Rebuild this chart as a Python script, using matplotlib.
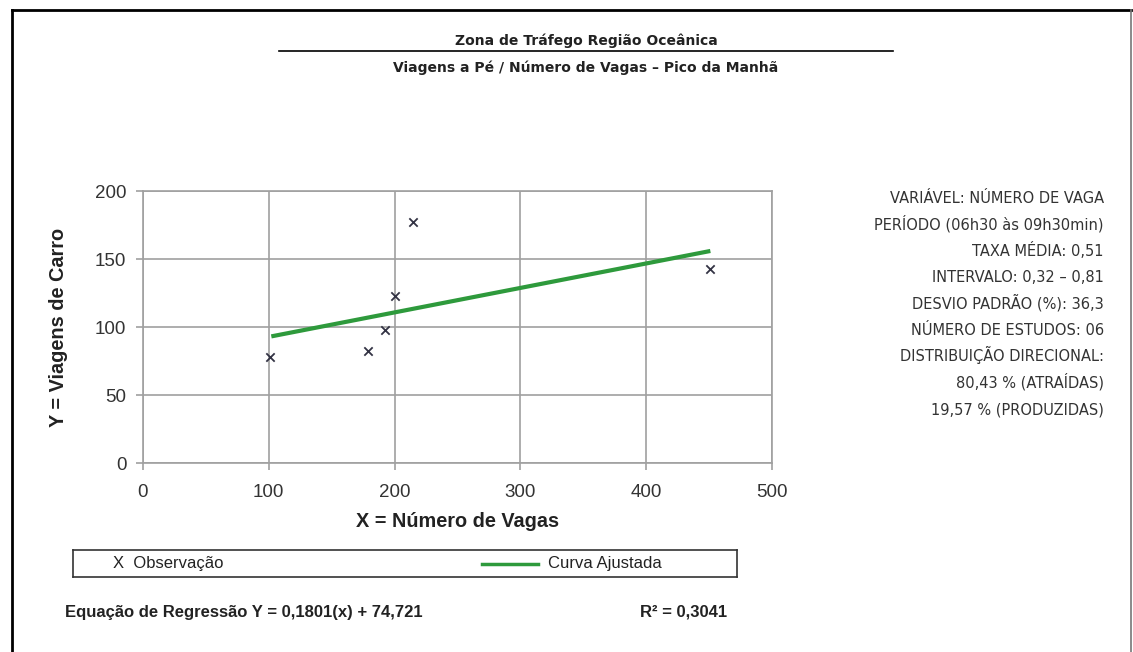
import matplotlib
matplotlib.use("Agg")
import matplotlib.pyplot as plt
from matplotlib.lines import Line2D

# Data
obs_x = [101, 179, 192, 200, 215, 451]
obs_y = [78, 82, 98, 123, 177, 143]
fit_x = [102, 451]
fit_y = [93.1, 155.9]

x_ticks = [0, 100, 200, 300, 400, 500]
y_ticks = [0, 50, 100, 150, 200]

title1 = "Zona de Tráfego Região Oceânica"
title2 = "Viagens a Pé / Número de Vagas – Pico da Manhã"
info_lines = [
    "VARIÁVEL: NÚMERO DE VAGA",
    "PERÍODO (06h30 às 09h30min)",
    "TAXA MÉDIA: 0,51",
    "INTERVALO: 0,32 – 0,81",
    "DESVIO PADRÃO (%): 36,3",
    "NÚMERO DE ESTUDOS: 06",
    "DISTRIBUIÇÃO DIRECIONAL:",
    "80,43 % (ATRAÍDAS)",
    "19,57 % (PRODUZIDAS)",
]
equation = "Equação de Regressão Y = 0,1801(x) + 74,721"
r2_text = "R² = 0,3041"

narrow = ["Liberation Sans Narrow", "DejaVu Sans"]
arial = ["Liberation Sans", "DejaVu Sans"]
W, H = 1133, 652

fig = plt.figure(figsize=(W / 100, H / 100), dpi=100)
fig.patch.set_facecolor("white")

def fx(px):
    return px / W

def fy(py):
    return 1 - py / H

# page frame (top, left, right)
fig.add_artist(Line2D([fx(12), fx(1131)], [fy(10), fy(10)], color="black", lw=2))
fig.add_artist(Line2D([fx(12), fx(12)], [fy(10), 0], color="black", lw=2))
fig.add_artist(Line2D([fx(1131), fx(1131)], [fy(10), 0], color="#777777", lw=1.2))

# titles
fig.text(fx(586), fy(45), title1, ha="center", va="baseline", fontsize=10,
         fontweight="bold", family=narrow, color="#222222")
fig.add_artist(Line2D([fx(279), fx(893)], [fy(51), fy(51)], color="black", lw=1.2))
fig.text(fx(586), fy(72), title2, ha="center", va="baseline", fontsize=10,
         fontweight="bold", family=narrow, color="#222222")

# main axes
ax = fig.add_axes([fx(143), fy(463), fx(772) - fx(143), fy(191) - fy(463)])
ax.plot(fit_x, fit_y, color="#2e9a3c", lw=3, solid_capstyle="butt", zorder=3)
ax.scatter(obs_x, obs_y, marker="x", s=36, color="#333344", linewidths=1.3, zorder=4)
ax.set_xlim(0, 500)
ax.set_ylim(0, 200)
ax.set_xticks(x_ticks)
ax.set_yticks(y_ticks)
ax.grid(True, color="#a0a0a0", lw=1.2)
ax.set_axisbelow(True)
for s in ax.spines.values():
    s.set_color("#a0a0a0")
    s.set_linewidth(1.2)
ax.tick_params(direction="out", length=5, color="#a0a0a0", width=1.2,
               labelsize=13.5, labelcolor="#333333")
ax.tick_params(axis="x", pad=10)
ax.tick_params(axis="y", pad=7)
for lab in ax.get_xticklabels() + ax.get_yticklabels():
    lab.set_family(arial)
ax.set_xlabel("X = Número de Vagas", fontsize=14.3, fontweight="bold",
              family=arial, color="#222222", labelpad=8)
ax.set_ylabel("Y = Viagens de Carro", fontsize=14.3, fontweight="bold",
              family=arial, color="#222222", labelpad=19)

# info block on the right
y0 = 203
for i, line in enumerate(info_lines):
    fig.text(fx(1104), fy(y0 + i * 26.4), line, ha="right", va="baseline",
             fontsize=10.5, family=narrow, color="#333333")

# legend box
lax = fig.add_axes([fx(73), fy(577), fx(737) - fx(73), fy(550) - fy(577)])
lax.set_xlim(0, 1)
lax.set_ylim(0, 1)
lax.set_xticks([])
lax.set_yticks([])
for s in lax.spines.values():
    s.set_color("#333333")
    s.set_linewidth(1.2)
lax.text((113 - 73) / 664, 0.5, "X  Observação", ha="left", va="center",
         fontsize=12, family=arial, color="#222222")
lax.plot([(482 - 73) / 664, (538 - 73) / 664], [0.5, 0.5], color="#2e9a3c", lw=2.5)
lax.text((548 - 73) / 664, 0.5, "Curva Ajustada", ha="left", va="center",
         fontsize=12, family=arial, color="#222222")

# regression equation
fig.text(fx(65), fy(612), equation, ha="left", va="center", fontsize=12,
         fontweight="bold", family=arial, color="#222222")
fig.text(fx(727), fy(612), r2_text, ha="right", va="center", fontsize=12,
         fontweight="bold", family=arial, color="#222222")

fig.savefig("out.png", dpi=100, facecolor="white")
